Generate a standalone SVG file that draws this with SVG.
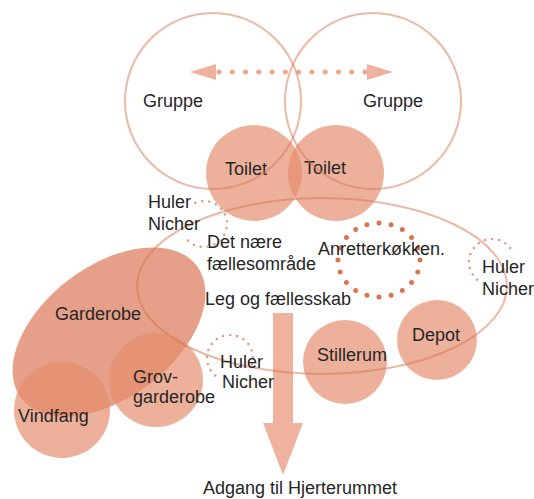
<svg xmlns="http://www.w3.org/2000/svg" width="534" height="499" viewBox="0 0 534 499">
<style>
text{font-family:"Liberation Sans",Arial,sans-serif;font-size:18px;fill:#262626}
.room{fill:#E58C6B;fill-opacity:.68}
.big{fill:#E0876A;fill-opacity:.8}
.ring{fill:none;stroke:#D77350;stroke-opacity:.5;stroke-width:2}
.niche{fill:none;stroke:#D9A082;stroke-width:2.6;stroke-linecap:round;stroke-dasharray:0 7}
.kitchen{fill:none;stroke:#DC7454;stroke-width:5;stroke-linecap:round;stroke-dasharray:0 1}
.flow{fill:#EEB29E}
.flowdots{stroke:#EAA88F;stroke-width:5;stroke-linecap:round;stroke-dasharray:0 13.27}
</style>
<rect width="534" height="499" fill="#fff"/>
<g id="garderobe">
<ellipse class="big" cx="109" cy="332" rx="110" ry="66" transform="rotate(-37 109 332)"/>
<text x="55" y="320">Garderobe</text>
</g>
<g id="vindfang">
<circle class="room" cx="62" cy="410" r="48"/>
<text x="18" y="422">Vindfang</text>
</g>
<g id="grovgarderobe">
<circle class="room" cx="156" cy="380" r="47"/>
<text x="133" y="383">Grov-</text>
<text x="133" y="403">garderobe</text>
</g>
<g id="toilet-1">
<circle class="room" cx="254" cy="173" r="48"/>
<text x="225" y="175">Toilet</text>
</g>
<g id="toilet-2">
<circle class="room" cx="336" cy="173" r="48"/>
<text x="304" y="174">Toilet</text>
</g>
<g id="stillerum">
<circle class="room" cx="345" cy="362" r="42"/>
<text x="317" y="361">Stillerum</text>
</g>
<g id="depot">
<circle class="room" cx="437" cy="340" r="40"/>
<text x="412" y="341">Depot</text>
</g>
<g id="connectors">
<polygon class="flow" points="273,313 293,313 293,423 303,423 283,475 263,423 273,423"/>
<line class="flowdots" x1="219" y1="72" x2="365" y2="72"/>
<polygon class="flow" points="190,72 216,64 216,80"/>
<polygon class="flow" points="393,72 367,64 367,80"/>
</g>
<g id="gruppe-1">
<circle class="ring" cx="213" cy="101" r="88"/>
<text x="143" y="107">Gruppe</text>
</g>
<g id="gruppe-2">
<circle class="ring" cx="373" cy="101" r="88"/>
<text x="363" y="107">Gruppe</text>
</g>
<g id="leg-og-faellesskab">
<ellipse class="ring" cx="322" cy="286" rx="185" ry="88"/>
<text x="205" y="305">Leg og fællesskab</text>
</g>
<g id="det-naere">
<text x="207" y="248">Det nære</text>
<text x="207" y="270">fællesområde</text>
</g>
<g id="anretterkoekken">
<ellipse class="kitchen" cx="379" cy="260" rx="41" ry="37" pathLength="20"/>
<text x="318" y="255">Anretterkøkken.</text>
</g>
<g id="huler-1">
<path class="niche" d="M195.4,202.7 A23,23 0 1 1 186.4,238.8"/>
<text x="148" y="208">Huler</text>
<text x="148" y="230">Nicher</text>
</g>
<g id="huler-2">
<path class="niche" d="M477.2,279.6 A23,23 0 1 1 513.6,254.1"/>
<text x="482" y="273">Huler</text>
<text x="482" y="295">Nicher</text>
</g>
<g id="huler-3">
<path class="niche" d="M215.2,375.6 A23,23 0 1 1 249.9,369.5"/>
<text x="220" y="368">Huler</text>
<text x="222" y="388">Nicher</text>
</g>
<g id="hjerterummet">
<text x="203" y="494">Adgang til Hjerterummet</text>
</g>
</svg>
